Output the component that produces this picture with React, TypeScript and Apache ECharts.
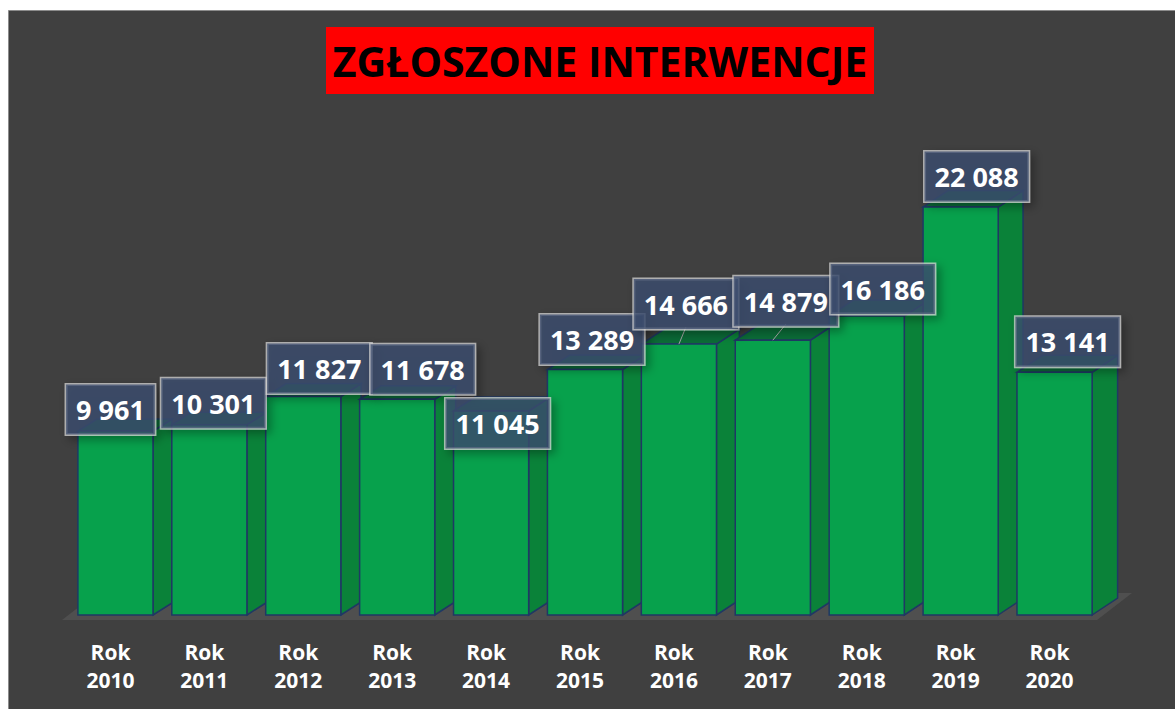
import React, { useEffect, useRef } from 'react';
import * as echarts from 'echarts';

const titleText = 'ZGŁOSZONE INTERWENCJE';
const years = ['2010', '2011', '2012', '2013', '2014', '2015', '2016', '2017', '2018', '2019', '2020'];
const values = [9961, 10301, 11827, 11678, 11045, 13289, 14666, 14879, 16186, 22088, 13141];
// manual label placement relative to the front-top centre of each bar
const labelShiftX = [-5, 4, 16, 25.5, 6.5, 7, 7, 13, 16, 16, 13];
const labelShiftY = [-21.5, -21.5, -28, -30, 12.5, -30, -40, -39, -27, -30.5, -30.5];

const fmt = (v: number) => String(v).replace(/\B(?=(\d{3})+(?!\d))/g, ' ');
const FONT = '"Open Sans", "Noto Sans", sans-serif';

export default function App() {
  const ref = useRef<HTMLDivElement>(null);
  useEffect(() => {
    if (!ref.current) return;
    const chart = echarts.init(ref.current, null, { renderer: 'svg' });
    const data = values.map((v, i) => [i, v]);
    const stroke = '#1f3864';
    chart.setOption({
      animation: false,
      backgroundColor: '#ffffff',
      graphic: [
        {
          type: 'rect', z: -10, silent: true,
          shape: { x: 8.5, y: 10.5, width: 1175, height: 710 },
          style: { fill: '#404040', stroke: '#8c8c8c', lineWidth: 1 },
        },
        {
          type: 'polygon', z: -5, silent: true,
          shape: { points: [[62, 620], [1097, 620], [1132, 593], [97, 593]] },
          style: { fill: '#4f4f4f' },
        },
        {
          type: 'rect', z: 5, silent: true,
          shape: { x: 326, y: 27, width: 548, height: 67 },
          style: { fill: '#ff0000' },
        },
        {
          type: 'text', z: 6, silent: true, x: 600, y: 61,
          style: {
            text: titleText, fill: '#000000', font: `bold 41px ${FONT}`,
            align: 'center', verticalAlign: 'middle',
          },
        },
      ],
      grid: { left: 63.5, right: 78.5, top: 153.25, bottom: 94 },
      xAxis: {
        type: 'category',
        data: years,
        axisLine: { show: false },
        axisTick: { show: false },
        axisLabel: {
          margin: 23,
          color: '#ffffff',
          fontFamily: FONT,
          fontWeight: 'bold',
          fontSize: 21,
          lineHeight: 28,
          verticalAlign: 'top',
          formatter: (y: string) => `Rok\n${y}`,
        },
      },
      yAxis: { type: 'value', min: 0, max: 25000, show: false, splitLine: { show: false } },
      series: [
        {
          type: 'custom',
          z: 2,
          data,
          renderItem: (params: any, api: any) => {
            const i = api.value(0);
            const v = api.value(1);
            const top = api.coord([i, v]);
            const base = api.coord([i, 0]);
            const w = api.size([1, 0])[0] * 0.8;
            const fc = top[0] + 5;
            const x0 = fc - w / 2;
            const x1 = fc + w / 2;
            const dx = 19 + i * 0.65;
            const dy = -(12 + i * 0.5);
            const yT = top[1];
            const yB = base[1];
            return {
              type: 'group',
              children: [
                {
                  type: 'polygon',
                  shape: { points: [[x1, yB], [x1 + dx, yB + dy], [x1 + dx, yT + dy], [x1, yT]] },
                  style: { fill: '#0a8239', stroke, lineWidth: 1.5 },
                },
                {
                  type: 'polygon',
                  shape: { points: [[x0, yT], [x0 + dx, yT + dy], [x1 + dx, yT + dy], [x1, yT]] },
                  style: { fill: '#0b6b37', stroke, lineWidth: 1.5 },
                },
                {
                  type: 'rect',
                  shape: { x: x0, y: yT, width: w, height: yB - yT },
                  style: { fill: '#07a14c', stroke, lineWidth: 1.5 },
                },
              ],
            };
          },
        },
        {
          type: 'custom',
          z: 10,
          data,
          renderItem: (params: any, api: any) => {
            const i = api.value(0);
            const v = api.value(1);
            const top = api.coord([i, v]);
            const fc = top[0] + 5;
            const cx = fc + labelShiftX[i];
            const cy = top[1] + labelShiftY[i];
            const children: any[] = [];
            if (labelShiftY[i] < -35) {
              children.push({
                type: 'line',
                shape: { x1: fc, y1: top[1], x2: cx, y2: cy + 23 },
                style: { stroke: '#a6a6a6', lineWidth: 1 },
              });
            }
            children.push({
              type: 'text',
              x: cx,
              y: cy,
              style: {
                text: fmt(v),
                fill: '#ffffff',
                font: `bold 27px ${FONT}`,
                lineHeight: 32,
                align: 'center',
                verticalAlign: 'middle',
                backgroundColor: 'rgba(62,78,112,0.78)',
                borderColor: 'rgba(210,210,210,0.75)',
                borderWidth: 1.5,
                padding: [9, 10, 9, 10],
                shadowColor: 'rgba(0,0,0,0.4)',
                shadowBlur: 10,
                shadowOffsetX: 4,
                shadowOffsetY: 4,
              },
            });
            return { type: 'group', children };
          },
        },
      ],
    });
    return () => chart.dispose();
  }, []);
  return (
    <div
      ref={ref}
      style={{ position: 'fixed', left: 0, top: 0, width: 1175, height: 709 }}
    />
  );
}
